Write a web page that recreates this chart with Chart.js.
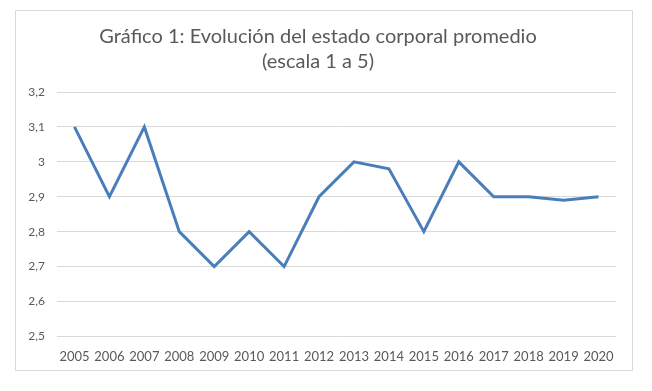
<!DOCTYPE html>
<html lang="es">
<head>
<meta charset="UTF-8">
<title>Gráfico 1</title>
<script src="https://cdn.jsdelivr.net/npm/chart.js"></script>
<style>
    body { margin: 0; background: #fff; }
    .frame {
        position: absolute;
        left: 15px; top: 10px;
        width: 616px; height: 359px;
        border: 1px solid #d9d9d9;
    }
</style>
</head>
<body>
<div class="frame"><canvas id="chart"></canvas></div>
<script>
// Data
const years = ['2005','2006','2007','2008','2009','2010','2011','2012','2013','2014','2015','2016','2017','2018','2019','2020'];
const condition = [3.1, 2.9, 3.1, 2.8, 2.7, 2.8, 2.7, 2.9, 3.0, 2.98, 2.8, 3.0, 2.9, 2.9, 2.89, 2.9];
const titleLines = ['Gráfico 1: Evolución del estado corporal promedio', '(escala 1 a 5)'];

const textColor = '#595959';
const gridColor = '#d9d9d9';

new Chart(document.getElementById('chart'), {
    type: 'line',
    data: {
        labels: years,
        datasets: [{
            data: condition,
            borderColor: '#4a7ebb',
            borderWidth: 3,
            pointRadius: 0,
            tension: 0,
            fill: false
        }]
    },
    options: {
        responsive: true,
        maintainAspectRatio: false,
        animation: false,
        layout: { padding: { left: 4, right: 16, top: 5, bottom: 0 } },
        plugins: {
            legend: { display: false },
            tooltip: { enabled: false },
            title: {
                display: true,
                text: titleLines,
                color: textColor,
                font: { family: 'Lato', size: 20, weight: 'normal', lineHeight: 1.25 },
                padding: { top: 8, bottom: 18 }
            }
        },
        scales: {
            x: {
                offset: true,
                grid: { display: false },
                border: { display: false },
                ticks: {
                    color: textColor,
                    font: { family: 'Lato', size: 13 },
                    maxRotation: 0,
                    autoSkip: false,
                    padding: 5
                }
            },
            y: {
                min: 2.5,
                max: 3.2,
                afterFit: s => { s.width = 37; },
                grid: { color: gridColor, drawTicks: false },
                border: { display: false },
                ticks: {
                    stepSize: 0.1,
                    color: textColor,
                    font: { family: 'Lato', size: 12 },
                    padding: 12,
                    callback: v => String(Math.round(v * 10) / 10).replace('.', ',')
                }
            }
        }
    }
});
</script>
</body>
</html>
